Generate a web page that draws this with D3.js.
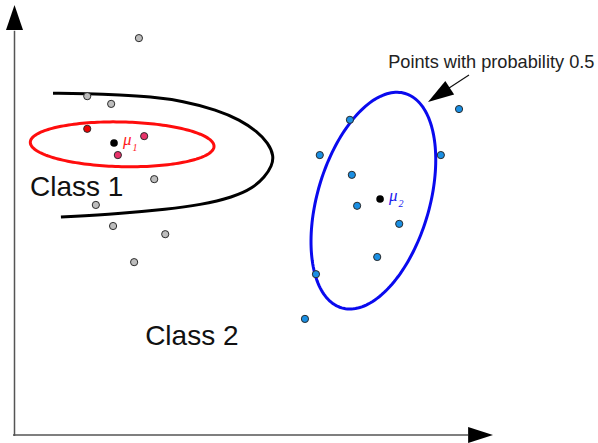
<!DOCTYPE html>
<html><head><meta charset="utf-8">
<script src="https://cdn.jsdelivr.net/npm/d3@7"></script>
<style>html,body{margin:0;padding:0;background:#fff;}svg{display:block;}</style>
</head><body>
<svg id="c" width="598" height="443"></svg>
<script>
// ---- data (abstract units 0..100 on both axes) ----
const class1Gray = [[26.0,92.3],[15.2,78.8],[20.2,77.0],[29.2,59.5],[17.0,53.5],[20.6,48.6],[31.5,46.7],[25.0,40.2]];
const class1Red = [[15.2,71.2]];
const class1Pink = [[27.1,69.5],[21.6,65.1]];
const class2Blue = [[92.9,75.8],[70.1,73.3],[63.8,65.1],[89.1,65.1],[70.5,60.5],[71.6,53.3],[80.4,49.1],[75.8,41.4],[63.0,37.4],[60.7,27.0]];
const means = [{name:"1", x:20.8, y:67.9}, {name:"2", x:76.4, y:54.9}];
// decision boundary (sampled)
const boundary = [[8.05,79.5],[8.05,79.5],[15.15,79.4],[22.05,79.1],[28.3,78.7],[35.2,77.7],[42.3,75.6],[47.1,73.3],[50.7,70.6],[53.0,67.9],[54.2,65.0],[53.8,62.6],[52.3,60.0],[49.8,57.4],[45.7,55.3],[38.8,53.5],[31.9,52.5],[22.05,51.5],[9.7,50.7],[9.7,50.7]];
// probability-0.5 contours: center, semi-axes (units), rotation (deg)
const contour1 = {cx:22.5, cy:67.6, rx:19.2, ry:5.2, rot:1.3};
const contour2 = {cx:75.0, cy:54.5, rx:11.7, ry:26.0, rot:16.5};
const labels = [{text:"Class 1", x:3.24, y:55.6}, {text:"Class 2", x:27.3, y:20.9}];
const annotation = {text:"Points with probability 0.5", x:78.1, y:85.3};

// ---- scales ----
const x = d3.scaleLinear().domain([0,100]).range([14.5,493]);
const y = d3.scaleLinear().domain([0,100]).range([435,5]);
const svg = d3.select("#c");

// axes
const axisColor = "#555";
svg.append("line").attr("x1", x(0)).attr("x2", x(0)).attr("y1", y(0)+1).attr("y2", y(94)).attr("stroke", axisColor).attr("stroke-width", 1.5);
svg.append("line").attr("x1", x(0)-1.5).attr("x2", x(94.8)).attr("y1", y(0)).attr("y2", y(0)).attr("stroke", axisColor).attr("stroke-width", 1.5);
svg.append("path").attr("d", `M${x(0)},${y(100)} L${x(0)-8.5},${y(94.2)} L${x(0)+8.5},${y(94.2)} Z`).attr("fill","#000");
svg.append("path").attr("d", `M${x(100)},${y(0)} L${x(94.8)},${y(0)-8} L${x(94.8)},${y(0)+8} Z`).attr("fill","#000");

// ellipse helper (in pixel space)
function ellipsePts(e){
  const cx = x(e.cx), cy = y(e.cy);
  const a = x(e.rx) - x(0), b = y(0) - y(e.ry);
  const t = e.rot*Math.PI/180, pts=[];
  for(let i=0;i<=180;i++){
    const th = i/180*2*Math.PI;
    const px = a*Math.cos(th), py = b*Math.sin(th);
    pts.push([cx + px*Math.cos(t) - py*Math.sin(t), cy + px*Math.sin(t) + py*Math.cos(t)]);
  }
  return pts;
}
const line = d3.line();
svg.append("path").attr("d", line(ellipsePts(contour1))+"Z").attr("fill","none").attr("stroke","#ff0d0d").attr("stroke-width",3);
svg.append("path").attr("d", line(ellipsePts(contour2))+"Z").attr("fill","none").attr("stroke","#0a0aee").attr("stroke-width",3);

// boundary
svg.append("path").attr("d", d3.line().x(d=>x(d[0])).y(d=>y(d[1])).curve(d3.curveBasis)(boundary))
  .attr("fill","none").attr("stroke","#000").attr("stroke-width",3);

// points
function dots(data, fill){
  svg.append("g").selectAll("circle").data(data).join("circle")
    .attr("cx", d=>x(d[0])).attr("cy", d=>y(d[1])).attr("r", 3.6)
    .attr("fill", fill).attr("stroke", "#2a2a2a").attr("stroke-width", 1);
}
dots(class1Gray, "#bdbdbd");
dots(class1Red, "#ee0000");
dots(class1Pink, "#e8336a");
dots(class2Blue, "#1a8fe3");

// means
svg.append("g").selectAll("circle").data(means).join("circle")
  .attr("cx", d=>x(d.x)).attr("cy", d=>y(d.y)).attr("r", 3.8).attr("fill","#000");
const muColor = {"1":"#ff1a1a","2":"#2020ee"};
means.forEach(m=>{
  const t = svg.append("text").attr("x", x(m.x)+9).attr("y", y(m.y)+2)
    .attr("font-family","'Liberation Serif','DejaVu Serif',serif").attr("font-style","italic")
    .attr("font-size",17).attr("fill", muColor[m.name]);
  t.append("tspan").text("μ");
  t.append("tspan").attr("dy",6).attr("dx",1).attr("font-size",10).text(m.name);
});

// class labels
svg.append("g").selectAll("text").data(labels).join("text")
  .attr("x", d=>x(d.x)).attr("y", d=>y(d.y)).text(d=>d.text)
  .attr("font-family","'Liberation Sans',Arial,sans-serif").attr("font-size",28).attr("fill","#111");

// annotation
svg.append("text").attr("x", x(annotation.x)).attr("y", y(annotation.y)).text(annotation.text)
  .attr("font-family","'Liberation Sans',Arial,sans-serif").attr("font-size",18.2).attr("fill","#222");
// annotation arrow
const ax0 = 469, ay0 = 75, ax1 = 428, ay1 = 102;
svg.append("line").attr("x1",ax0).attr("y1",ay0).attr("x2",446).attr("y2",90).attr("stroke","#111").attr("stroke-width",1.2);
(function(){
  const dx = ax0-ax1, dy = ay0-ay1, L = Math.hypot(dx,dy), ux=dx/L, uy=dy/L;
  const len = 26, hw = 8;
  const bx = ax1+ux*len, by = ay1+uy*len;
  svg.append("path").attr("d",`M${ax1},${ay1} L${bx-uy*hw},${by+ux*hw} L${bx+uy*hw},${by-ux*hw} Z`).attr("fill","#000");
})();
</script>
</body></html>
